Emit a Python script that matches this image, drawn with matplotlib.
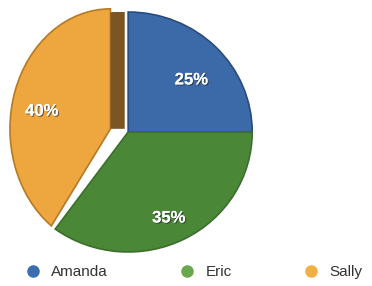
import matplotlib.pyplot as plt
import matplotlib.patheffects as pe
from matplotlib.lines import Line2D
from matplotlib.patches import Polygon
from matplotlib.transforms import Affine2D, offset_copy

plt.rcParams['font.family'] = ['Liberation Sans', 'DejaVu Sans']

names = ['Amanda', 'Eric', 'Sally']
shares = [25, 35, 40]
slice_colors = ['#3c69a7', '#4a8838', '#eea63f']
edge_colors = ['#284c7e', '#3c6e2c', '#b57a25']
legend_colors = ['#3b6db0', '#69a84f', '#f0b042']
explode = [0, 0, 0.15]

fig = plt.figure(figsize=(3.72, 2.86), dpi=100)
# pie centre at about (128, 132) px, radius ~124 x 120 px
ax = fig.add_axes([0.011, 0.119, 0.667, 0.839])

wedges, texts, autotexts = ax.pie(
    shares, colors=slice_colors, explode=explode, startangle=90,
    counterclock=False, autopct='%d%%', pctdistance=0.72,
    wedgeprops=dict(linewidth=0))
ax.set_aspect('auto')
ax.set_xlim(-1, 1)
ax.set_ylim(-1, 1)

# darker rim on each slice
for w, ec in zip(wedges, edge_colors):
    w.set_edgecolor(ec)
    w.set_linewidth(1.2)

# the pulled-out slice looks narrower (perspective): squeeze it about its flat edge
sally = wedges[2]
cx, cy = sally.center
r = sally.r
squeeze = (Affine2D().translate(-cx, 0).scale(0.81, 1).translate(cx, -0.02)
           + ax.transData)
sally.set_transform(squeeze)

# side face of the pulled-out slice
side = Polygon([(cx, cy), (cx, cy + r * 0.97), (cx + 0.142, cy + r * 0.99), (cx + 0.142, cy)],
               closed=True, facecolor='#7d5522', edgecolor='none', zorder=3,
               transform=squeeze)
ax.add_patch(side)

for i, t in enumerate(autotexts):
    base = squeeze if i == 2 else ax.transData
    t.set_transform(offset_copy(base, fig=fig, x=0, y=-9, units='dots'))
    t.set_color('white')
    t.set_fontsize(12)
    t.set_fontweight('bold')
    t.set_zorder(5)
    t.set_path_effects([pe.withSimplePatchShadow(offset=(0.8, -0.8), shadow_rgbFace='#222222', alpha=0.6),
                        pe.Normal()])

handles = [Line2D([], [], marker='o', linestyle='none', markersize=8,
                  markerfacecolor=c, markeredgecolor=c) for c in legend_colors]
fig.legend(handles, names, loc='center left', bbox_to_anchor=(0.03, 0.049),
           ncol=3, frameon=False, fontsize=11, handlelength=1.0,
           handletextpad=0.7, columnspacing=4.7, labelcolor='#333333')

fig.savefig('out.png', dpi=100)
